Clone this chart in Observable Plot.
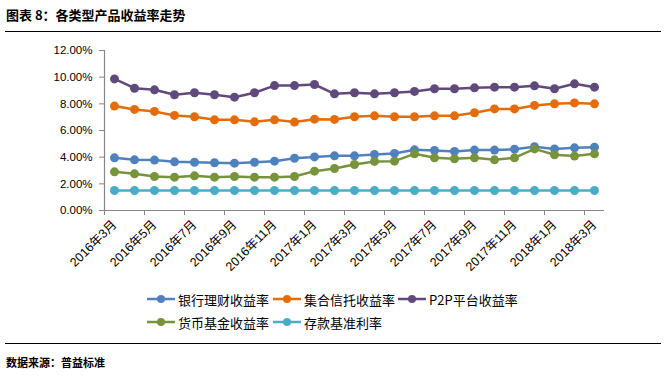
<!DOCTYPE html>
<html>
<head>
<meta charset="utf-8">
<script src="https://cdn.jsdelivr.net/npm/d3@7"></script>
<script src="https://cdn.jsdelivr.net/npm/@observablehq/plot@0.6"></script>
<style>
  body { margin: 0; background: #fff; }
  #wrap { position: relative; width: 666px; height: 378px; overflow: hidden; font-family: "Noto Sans CJK SC", sans-serif; }
  #title { position: absolute; left: 6px; top: 5px; font-size: 13px; font-weight: bold; line-height: 20px; color: #000; }
  .rule { position: absolute; left: 5px; width: 656px; height: 0; border-top: 1.5px solid #000; }
  #source { position: absolute; left: 6px; top: 352px; font-size: 11px; font-weight: bold; line-height: 20px; color: #000; }
  #chart { position: absolute; left: 0; top: 0; }
  .leg { position: absolute; height: 20px; display: flex; align-items: center; font-size: 13px; color: #000; white-space: nowrap; }
  .leg svg { margin-right: 3px; }
</style>
</head>
<body>
<div id="wrap">
  <div id="title">图表 8：各类型产品收益率走势</div>
  <div class="rule" style="top:31px"></div>
  <div id="chart"></div>
  <div id="legend"></div>
  <div class="rule" style="top:343px"></div>
  <div id="source">数据来源：普益标准</div>
</div>
<script>
const months = ["2016年3月","2016年4月","2016年5月","2016年6月","2016年7月","2016年8月","2016年9月","2016年10月","2016年11月","2016年12月",
  "2017年1月","2017年2月","2017年3月","2017年4月","2017年5月","2017年6月","2017年7月","2017年8月","2017年9月","2017年10月",
  "2017年11月","2017年12月","2018年1月","2018年2月","2018年3月"];
const bank    = [3.95,3.80,3.78,3.65,3.62,3.58,3.55,3.62,3.70,3.92,4.02,4.10,4.10,4.20,4.28,4.55,4.50,4.43,4.53,4.53,4.60,4.78,4.62,4.70,4.75];
const trust   = [7.83,7.58,7.43,7.13,7.03,6.80,6.80,6.65,6.80,6.63,6.85,6.83,7.03,7.10,7.03,7.03,7.10,7.10,7.33,7.62,7.62,7.88,8.00,8.07,8.00];
const p2p     = [9.87,9.17,9.05,8.68,8.83,8.68,8.50,8.83,9.37,9.37,9.45,8.75,8.83,8.75,8.83,8.93,9.13,9.13,9.20,9.25,9.25,9.35,9.13,9.50,9.25];
const mmf     = [2.90,2.75,2.55,2.50,2.60,2.50,2.55,2.50,2.50,2.55,2.95,3.15,3.45,3.68,3.70,4.25,3.95,3.88,3.95,3.80,3.95,4.62,4.18,4.08,4.25];
const deposit = [1.50,1.50,1.50,1.50,1.50,1.50,1.50,1.50,1.50,1.50,1.50,1.50,1.50,1.50,1.50,1.50,1.50,1.50,1.50,1.50,1.50,1.50,1.50,1.50,1.50];
const seriesNames = ["银行理财收益率","集合信托收益率","P2P平台收益率","货币基金收益率","存款基准利率"];
const seriesValues = [bank, trust, p2p, mmf, deposit];
const colors = ["#4F81BD","#E46C0A","#604A7B","#77933C","#4BACC6"];
const yTicks = [0,2,4,6,8,10,12];
const labelIdx = d3.range(0, months.length, 2);
const boundaries = d3.range(-0.5, months.length, 2);

const seriesMarks = [];
seriesValues.forEach((vals, s) => {
  const data = vals.map((v, i) => ({i, v, name: seriesNames[s]}));
  seriesMarks.push(Plot.line(data, {x: "i", y: "v", stroke: colors[s], strokeWidth: 2.5}));
  seriesMarks.push(Plot.dot(data, {x: "i", y: "v", fill: colors[s], r: 4.5}));
});

const chart = Plot.plot({
  width: 666, height: 285,
  marginLeft: 104, marginRight: 62, marginTop: 50, marginBottom: 75,
  style: {fontFamily: "'Liberation Sans','Noto Sans CJK SC',sans-serif", fontSize: "11.5px", color: "#000", background: "transparent"},
  x: {type: "linear", domain: [-0.5, 24.5]},
  y: {domain: [0, 12]},
  marks: [
    Plot.axisY(yTicks, {tickFormat: d => d.toFixed(2) + "%", tickSize: 5, tickPadding: 7, stroke: "#868686", fill: "#000", label: null}),
    Plot.axisX(boundaries, {tickFormat: () => "", tickSize: 5, stroke: "#868686", label: null}),
    Plot.axisX(labelIdx, {tickFormat: i => months[i], tickSize: 0, tickPadding: 12, tickRotate: -45, fill: "#000", fontSize: 12.5, label: null}),
    Plot.ruleY([0], {stroke: "#868686", strokeWidth: 1.2}),
    Plot.ruleX([-0.5], {stroke: "#868686", strokeWidth: 1.2}),
    ...seriesMarks
  ]
});
document.getElementById("chart").appendChild(chart);

// legend
const legendPos = [[147, 289], [273, 289], [398, 289], [147, 312], [273, 312]];
const legend = document.getElementById("legend");
seriesNames.forEach((name, s) => {
  const el = document.createElement("div");
  el.className = "leg";
  el.style.left = legendPos[s][0] + "px";
  el.style.top = legendPos[s][1] + "px";
  el.innerHTML = `<svg width="28" height="12"><line x1="0" y1="6" x2="28" y2="6" stroke="${colors[s]}" stroke-width="2.5"/><circle cx="14" cy="6" r="4" fill="${colors[s]}"/></svg><span>${name}</span>`;
  legend.appendChild(el);
});
</script>
</body>
</html>
